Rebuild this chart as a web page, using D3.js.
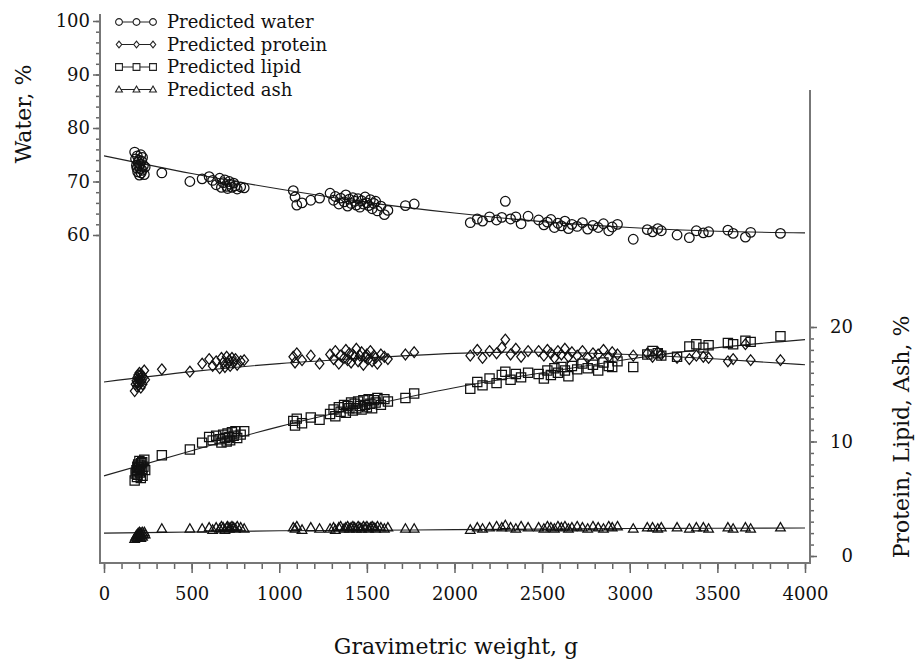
<!DOCTYPE html>
<html>
<head>
<meta charset="utf-8">
<script src="https://cdn.jsdelivr.net/npm/d3@7"></script>
<style>
  body { margin: 0; background: #fff; }
  svg { display: block; }
  .tick line { stroke: #666; stroke-width: 1.5; }
  .frame { stroke: #777; stroke-width: 2; }
  .title { font-family: "DejaVu Serif", serif; font-size: 22px; fill: #111; }
  .legend text { font-family: "DejaVu Serif", serif; font-size: 18px; fill: #111; }
</style>
</head>
<body>
<script>
// fish weights (g), shared by all four series
var weight = [175,180,185,188,190,192,195,198,200,202,205,208,210,212,215,218,220,225,230,235,
  330,
  490,560,600,620,640,660,670,680,690,700,705,715,720,730,740,750,760,780,800,
  1080,1090,1100,1130,1180,1230,
  1290,1310,1320,1340,1350,1370,1380,1390,1400,1410,1420,1430,1440,1450,1460,1470,1480,1490,1500,1510,1520,1530,1540,1550,1560,1580,1600,1620,
  1720,1770,
  2090,2130,2160,2200,2240,2270,2290,2320,2350,2380,2420,
  2480,2510,2530,2550,2570,2590,2610,2630,2650,2670,2700,2730,2760,2790,2820,2850,2880,2900,2930,
  3020,3100,3130,3160,3180,3270,3340,3380,3420,3450,3560,3590,3660,3690,3860];

var water = [75.5,74.2,73.0,72.5,74.8,71.8,73.6,72.9,74.0,71.2,73.2,72.4,75.0,71.6,73.8,72.1,74.5,73.0,71.3,72.7,
  71.6,
  70.0,70.5,70.9,70.2,69.4,70.6,68.9,69.8,70.3,69.1,68.7,70.0,69.5,68.9,69.7,69.2,68.6,69.0,68.8,
  68.3,67.1,65.6,66.0,66.5,66.9,
  67.8,66.5,67.2,65.8,66.9,66.2,67.5,65.4,66.7,65.9,67.0,66.3,65.6,66.8,65.2,66.4,65.8,67.1,66.0,65.5,66.6,64.9,65.9,66.3,64.5,65.4,63.8,64.6,
  65.5,65.8,
  62.3,63.0,62.6,63.4,62.8,63.3,66.3,63.0,63.4,62.1,63.5,
  62.8,61.9,62.4,62.9,61.4,62.2,61.7,62.6,61.2,62.0,61.6,62.3,61.1,61.8,61.4,62.1,60.8,61.5,62.0,
  59.2,61.0,60.6,61.2,60.8,60.0,59.5,60.8,60.4,60.6,60.9,60.3,59.6,60.5,60.3];

var protein = [14.4,15.0,15.3,14.8,15.6,15.1,15.8,14.9,15.4,16.0,15.2,15.5,14.7,15.9,15.3,15.7,15.0,15.6,16.2,15.4,
  16.3,
  16.1,16.8,17.2,16.6,17.0,16.4,17.3,16.9,16.5,17.4,16.8,17.1,16.6,17.3,16.9,17.2,16.7,17.0,17.1,
  17.4,16.9,17.7,17.1,17.5,16.8,
  17.6,17.2,17.9,16.8,17.5,17.3,18.0,17.1,17.7,16.9,17.6,17.4,18.1,17.0,17.5,17.8,16.7,17.4,17.6,17.2,17.9,17.0,17.5,17.3,16.8,17.6,17.4,17.2,
  17.6,17.8,
  17.5,18.0,17.3,17.9,17.7,18.2,18.9,17.6,18.1,17.4,17.9,
  17.9,17.5,18.0,17.7,17.3,17.9,17.6,18.1,17.4,17.8,17.5,17.9,17.3,17.7,17.6,18.0,17.4,17.8,17.6,
  17.5,17.7,17.4,17.8,17.6,17.3,17.2,17.5,17.4,17.3,17.0,17.2,18.5,17.1,17.1];

var lipid = [6.6,7.2,7.5,6.9,7.8,7.1,8.0,7.4,7.7,8.3,7.3,7.9,6.8,8.1,7.6,8.2,7.0,7.8,8.4,7.5,
  8.8,
  9.3,9.9,10.4,10.1,10.5,10.2,9.9,10.6,10.3,10.0,10.7,10.4,10.1,10.8,10.5,10.9,10.3,10.6,10.9,
  11.8,11.4,12.0,11.6,12.1,11.9,
  12.4,12.8,12.2,13.0,12.6,13.2,12.5,13.1,12.9,13.4,12.7,13.3,12.9,13.5,13.1,12.8,13.6,13.2,13.0,13.7,13.3,12.9,13.6,13.4,13.8,13.2,13.7,13.5,
  13.8,14.2,
  14.6,15.2,14.9,15.5,15.1,15.8,16.1,15.4,15.9,15.6,16.0,
  15.9,15.5,16.2,15.8,16.4,16.0,16.5,16.2,15.7,16.6,16.3,16.8,16.4,16.7,16.2,16.9,16.6,16.5,17.0,
  16.5,17.6,17.9,17.7,17.5,17.4,18.3,18.5,18.2,18.4,18.6,18.5,18.8,18.7,19.2];

var ash = [1.5,1.7,1.8,1.6,1.9,1.7,2.0,1.8,1.9,2.1,1.7,2.0,1.6,2.0,1.8,2.1,1.7,1.9,2.1,1.9,
  2.4,
  2.4,2.4,2.5,2.3,2.5,2.4,2.6,2.5,2.3,2.5,2.6,2.4,2.5,2.6,2.5,2.4,2.6,2.5,2.4,
  2.5,2.4,2.6,2.3,2.5,2.4,
  2.4,2.5,2.3,2.5,2.6,2.4,2.5,2.6,2.4,2.5,2.6,2.5,2.4,2.6,2.5,2.4,2.6,2.5,2.6,2.4,2.5,2.6,2.5,2.4,2.6,2.5,2.4,2.5,
  2.4,2.4,
  2.3,2.5,2.4,2.5,2.6,2.5,2.7,2.5,2.4,2.6,2.5,
  2.5,2.4,2.6,2.5,2.4,2.6,2.5,2.6,2.4,2.5,2.6,2.5,2.4,2.6,2.5,2.4,2.6,2.5,2.6,
  2.4,2.5,2.5,2.4,2.5,2.5,2.4,2.5,2.5,2.4,2.5,2.4,2.5,2.4,2.5];

// predicted curves, read at every 500 g
var fitWeight  = [0, 500, 1000, 1500, 2000, 2500, 3000, 3500, 4000];
var fitWater   = [74.8, 71.5, 68.6, 66.1, 64.1, 62.5, 61.4, 60.7, 60.4];
var fitProtein = [15.2, 16.1, 16.8, 17.3, 17.7, 17.8, 17.6, 17.2, 16.7];
var fitLipid   = [7.0, 9.2, 11.3, 13.1, 14.7, 16.0, 17.2, 18.2, 18.9];
var fitAsh     = [2.0, 2.1, 2.2, 2.25, 2.3, 2.35, 2.4, 2.42, 2.45];

var legendLabels = ["Predicted water", "Predicted protein", "Predicted lipid", "Predicted ash"];

var W = 920, H = 663;
var frame = {left: 100, right: 810, top: 14, rightTop: 90, bottom: 563};
var tickFont = '"DejaVu Serif", serif';

var x = d3.scaleLinear().domain([0, 4000]).range([104, 805]);
var yW = d3.scaleLinear().domain([60, 100]).range([235, 21]);
var yP = d3.scaleLinear().domain([0, 20]).range([556, 327]);

var svg = d3.select("body").append("svg")
  .attr("width", W)
  .attr("height", H);

// symbol paths
function circle(r) {
  return "M" + (-r) + ",0a" + r + "," + r + " 0 1,0 " + (2 * r) + ",0a" + r + "," + r + " 0 1,0 " + (-2 * r) + ",0Z";
}
function diamond(r) {
  var w = r * 0.8;
  return "M0," + (-r) + "L" + w + ",0L0," + r + "L" + (-w) + ",0Z";
}
function square(r) {
  return "M" + (-r) + "," + (-r) + "h" + (2 * r) + "v" + (2 * r) + "h" + (-2 * r) + "Z";
}
function triangle(r) {
  return "M0," + (-r) + "L" + r + "," + (r * 0.75) + "L" + (-r) + "," + (r * 0.75) + "Z";
}

var series = [
  {vals: water, fit: fitWater, y: yW, shape: circle, size: 4.8},
  {vals: protein, fit: fitProtein, y: yP, shape: diamond, size: 5.4},
  {vals: lipid, fit: fitLipid, y: yP, shape: square, size: 4.6},
  {vals: ash, fit: fitAsh, y: yP, shape: triangle, size: 4.8}
];

// axes
var fmt = d3.format("d");
var xAxis = d3.axisBottom(x).tickValues(d3.range(0, 4001, 500)).tickFormat(fmt).tickSize(10).tickPadding(14);
var xMinor = d3.axisBottom(x).tickValues(d3.range(0, 4001, 100)).tickSize(6).tickFormat("");
var yWAxis = d3.axisLeft(yW).tickValues([60, 70, 80, 90, 100]).tickFormat(fmt).tickSize(7).tickPadding(3);
var yWMinor = d3.axisLeft(yW).tickValues(d3.range(60, 101, 2)).tickSize(4).tickFormat("");
var yPAxis = d3.axisRight(yP).tickValues([0, 10, 20]).tickFormat(fmt).tickSize(7);
var yPMinor = d3.axisRight(yP).tickValues(d3.range(0, 21, 1)).tickSize(4).tickFormat("");

svg.append("g").attr("transform", "translate(0," + frame.bottom + ")").call(xMinor);
svg.append("g").attr("transform", "translate(0," + frame.bottom + ")").call(xAxis);
svg.append("g").attr("transform", "translate(" + frame.left + ",0)").call(yWMinor);
svg.append("g").attr("transform", "translate(" + frame.left + ",0)").call(yWAxis);
svg.append("g").attr("transform", "translate(" + frame.right + ",0)").call(yPMinor);
var rAx = svg.append("g").attr("transform", "translate(" + frame.right + ",0)").call(yPAxis);
rAx.selectAll("text").attr("text-anchor", "end").attr("x", 43);
svg.selectAll(".domain").remove();
svg.selectAll(".tick text")
  .style("font-family", tickFont)
  .style("font-size", "18px")
  .style("fill", "#111");

// frame lines
svg.append("line").attr("class", "frame")
  .attr("x1", frame.left).attr("x2", frame.left).attr("y1", frame.top).attr("y2", frame.bottom);
svg.append("line").attr("class", "frame")
  .attr("x1", frame.right).attr("x2", frame.right).attr("y1", frame.rightTop).attr("y2", frame.bottom);
svg.append("line").attr("class", "frame")
  .attr("x1", frame.left - 1).attr("x2", frame.right + 1).attr("y1", frame.bottom).attr("y2", frame.bottom);

// fitted lines
series.forEach(function(s) {
  var line = d3.line()
    .x(function(d, i) { return x(fitWeight[i]); })
    .y(function(d) { return s.y(d); })
    .curve(d3.curveNatural);
  svg.append("path")
    .datum(s.fit)
    .attr("d", line)
    .attr("fill", "none")
    .attr("stroke", "#222")
    .attr("stroke-width", 1.1);
});

// points
series.forEach(function(s) {
  svg.append("g").selectAll("path")
    .data(s.vals)
    .enter().append("path")
    .attr("transform", function(d, i) { return "translate(" + x(weight[i]) + "," + s.y(d) + ")"; })
    .attr("d", s.shape(s.size))
    .attr("fill", "none")
    .attr("stroke", "#111")
    .attr("stroke-width", 1.25);
});

// legend
var legend = svg.append("g").attr("class", "legend");
legendLabels.forEach(function(lab, i) {
  var cy = 22 + i * 22.5;
  var g = legend.append("g").attr("transform", "translate(0," + cy + ")");
  g.append("line").attr("x1", 118).attr("x2", 154).attr("y1", 0).attr("y2", 0)
    .attr("stroke", "#222").attr("stroke-width", 1);
  [119, 136.5, 153].forEach(function(mx) {
    g.append("path")
      .attr("transform", "translate(" + mx + ",0)")
      .attr("d", series[i].shape(3.4))
      .attr("fill", "#fff")
      .attr("stroke", "#222")
      .attr("stroke-width", 1.1);
  });
  g.append("text").attr("x", 167).attr("y", 6).text(lab);
});

// axis titles
svg.append("text").attr("class", "title")
  .attr("transform", "translate(31,114) rotate(-90)")
  .attr("text-anchor", "middle")
  .text("Water, %");
svg.append("text").attr("class", "title")
  .attr("transform", "translate(909,437) rotate(-90)")
  .attr("text-anchor", "middle")
  .text("Protein, Lipid, Ash, %");
svg.append("text").attr("class", "title")
  .attr("x", 456).attr("y", 654)
  .attr("text-anchor", "middle")
  .text("Gravimetric weight, g");
</script>
</body>
</html>
